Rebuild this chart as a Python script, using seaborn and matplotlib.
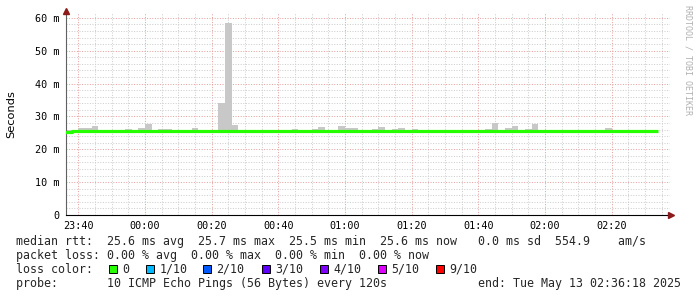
import matplotlib
matplotlib.use("Agg")
import matplotlib.pyplot as plt
import matplotlib.dates as mdates
from matplotlib.ticker import MultipleLocator, FuncFormatter
from matplotlib.patches import Rectangle
import numpy as np
import pandas as pd
import seaborn as sns

# ---------------- data ----------------
step_start = "2025-05-12 23:36:00"
n_steps = 89
view_start = "2025-05-12 23:36:18"
view_end = "2025-05-13 02:37:30"

median_ms = [25.3, 25.6, 25.6, 25.6, 25.6, 25.5, 25.5, 25.5, 25.5, 25.6,
             25.6, 25.6, 25.6, 25.6, 25.6, 25.6, 25.6, 25.6, 25.6, 25.6,
             25.6, 25.6, 25.6, 25.6, 25.6, 25.6, 25.6, 25.6, 25.5, 25.5,
             25.5, 25.5, 25.6, 25.6, 25.6, 25.6, 25.6, 25.6, 25.6, 25.6,
             25.6, 25.6, 25.6, 25.6, 25.6, 25.6, 25.6, 25.6, 25.6, 25.6,
             25.6, 25.6, 25.6, 25.6, 25.6, 25.6, 25.6, 25.6, 25.6, 25.6,
             25.6, 25.6, 25.6, 25.6, 25.6, 25.6, 25.6, 25.6, 25.6, 25.6,
             25.6, 25.6, 25.7, 25.7, 25.6, 25.6, 25.6, 25.6, 25.6, 25.6,
             25.6, 25.6, 25.6, 25.6, 25.6, 25.6, 25.6, 25.6, 25.6]

smoke_top_ms = [25.8, 25.8, 26.6, 26.6, 27.2, 25.8, 25.9, 25.9, 25.8, 26.2,
                25.8, 26.5, 27.8, 25.8, 26.2, 26.2, 25.8, 25.8, 25.8, 26.5,
                25.8, 25.8, 25.8, 34.2, 58.6, 27.4, 25.8, 25.8, 25.8, 25.8,
                26.0, 25.8, 25.8, 25.8, 26.2, 25.8, 25.8, 26.2, 26.8, 25.8,
                26.0, 27.1, 26.5, 26.5, 25.8, 26.0, 26.2, 26.8, 25.8, 26.2,
                26.6, 25.8, 26.2, 25.8, 26.0, 25.8, 26.0, 25.8, 25.8, 26.0,
                25.8, 25.8, 25.8, 26.2, 28.0, 25.8, 26.5, 27.1, 25.8, 26.2,
                27.7, 25.8, 26.0, 25.8, 25.8, 25.8, 25.8, 25.8, 25.8, 25.8,
                25.8, 26.5, 25.8, 25.8, 26.0, 25.8, 25.8, 25.8, 25.8]

loss_labels = ["0", "1/10", "2/10", "3/10", "4/10", "5/10", "9/10"]
loss_colors = ["#26ff00", "#00b8ff", "#0059ff", "#5e00ff", "#7e00ff", "#dd00ff", "#ff0000"]

line_rtt = "median rtt:  25.6 ms avg  25.7 ms max  25.5 ms min  25.6 ms now   0.0 ms sd  554.9    am/s"
line_loss = "packet loss: 0.00 % avg  0.00 % max  0.00 % min  0.00 % now"
line_color = "loss color:"
line_probe = "probe:       10 ICMP Echo Pings (56 Bytes) every 120s"
line_end = "end: Tue May 13 02:36:18 2025"
y_title = "Seconds"
watermark = "RRDTOOL / TOBI OETIKER"

# ---------------- figure ----------------
sns.set_style("white")
plt.rcParams['font.family'] = ['DejaVu Sans Mono', 'DejaVu Sans']

W, H = 697, 297
fig = plt.figure(figsize=(W / 100, H / 100), dpi=100)
fig.patch.set_facecolor("white")


def fx(x):
    return x / W


def fy(y):
    return 1 - y / H


ax = fig.add_axes([fx(66), fy(215), (670 - 66) / W, (215 - 13) / H])

times = pd.date_range(step_start, periods=n_steps, freq="2min")
step_days = 2 / 1440.0
med = np.array(median_ms)
top = np.array(smoke_top_ms)
bottom = med - 0.3

# smoke
ax.bar(times, top - bottom, bottom=bottom, width=step_days, align="edge",
       color="#c8c8c8", linewidth=0, zorder=2)

# median line (step)
df = pd.DataFrame({"t": list(times) + [times[-1] + pd.Timedelta(minutes=2)],
                   "ms": list(med) + [med[-1]]})
sns.lineplot(data=df, x="t", y="ms", ax=ax, color="#26ff00", linewidth=2.3,
             drawstyle="steps-post", zorder=3, solid_capstyle="butt")

ax.set_xlim(pd.Timestamp(view_start), pd.Timestamp(view_end))
ax.set_ylim(0, 61.5)

# axes formatting
ax.xaxis.set_major_locator(mdates.MinuteLocator(byminute=[0, 20, 40]))
ax.xaxis.set_minor_locator(mdates.MinuteLocator(byminute=range(0, 60, 5)))
ax.xaxis.set_major_formatter(mdates.DateFormatter("%H:%M"))
ax.yaxis.set_major_locator(MultipleLocator(10))
ax.yaxis.set_minor_locator(MultipleLocator(2))
ax.yaxis.set_major_formatter(FuncFormatter(lambda v, p: "0" if v == 0 else f"{int(round(v))} m"))

ax.set_axisbelow(True)
ax.grid(which="major", color="#e6a0a0", linestyle=(0, (1, 1.6)), linewidth=0.72, zorder=0)
ax.grid(which="minor", color="#cdcdcd", linestyle=(0, (1, 1.6)), linewidth=0.72, zorder=0)

for s in ["top", "right"]:
    ax.spines[s].set_visible(False)
ax.spines["left"].set_color("#606060")
ax.spines["left"].set_linewidth(0.8)
ax.spines["bottom"].set_color("#000000")
ax.spines["bottom"].set_linewidth(0.8)

ax.tick_params(axis="both", which="major", direction="inout", length=4, width=0.7,
               colors="#606060", labelcolor="#000000", labelsize=7.3)
ax.tick_params(axis="both", which="minor", direction="in", length=2, width=0.6,
               colors="#909090")
ax.tick_params(axis="y", which="major", pad=3)
ax.tick_params(axis="x", which="major", pad=2.5)
ax.set_xlabel("")
ax.set_ylabel("")

# axis arrows
fig.lines.append(plt.Line2D([fx(66)], [fy(10.5)], marker="^", markersize=4.2,
                            color="#8b1a1a", transform=fig.transFigure, linestyle="none"))
fig.lines.append(plt.Line2D([fx(671)], [fy(215)], marker=">", markersize=4.2,
                            color="#8b1a1a", transform=fig.transFigure, linestyle="none"))

# y title
fig.text(fx(11), fy(114), y_title, rotation=90, ha="center", va="center",
         fontsize=8.2, family="DejaVu Sans", color="#000000")

# watermark
fig.text(fx(688), fy(5), watermark, rotation=270, ha="center", va="top",
         fontsize=6, color="#b0b0b0")

# legend lines
fs = 8.4
fig.text(fx(16), fy(241.5), line_rtt, ha="left", va="center", fontsize=fs)
fig.text(fx(16), fy(255.5), line_loss, ha="left", va="center", fontsize=fs)
fig.text(fx(16), fy(269.5), line_color, ha="left", va="center", fontsize=fs)
fig.text(fx(16), fy(283), line_probe, ha="left", va="center", fontsize=fs)
fig.text(fx(478), fy(283), line_end, ha="left", va="center", fontsize=fs)

box_x = [108.7, 145.7, 203, 262, 320, 377.7, 435.7]
for bx, lab, col in zip(box_x, loss_labels, loss_colors):
    fig.patches.append(Rectangle((fx(bx), fy(273)), 8 / W, 8 / H, transform=fig.transFigure,
                                 facecolor=col, edgecolor="#000000", linewidth=0.7))
    fig.text(fx(bx + 13.5), fy(269.5), lab, ha="left", va="center", fontsize=fs)

fig.savefig("out.png", dpi=100, facecolor="white")
